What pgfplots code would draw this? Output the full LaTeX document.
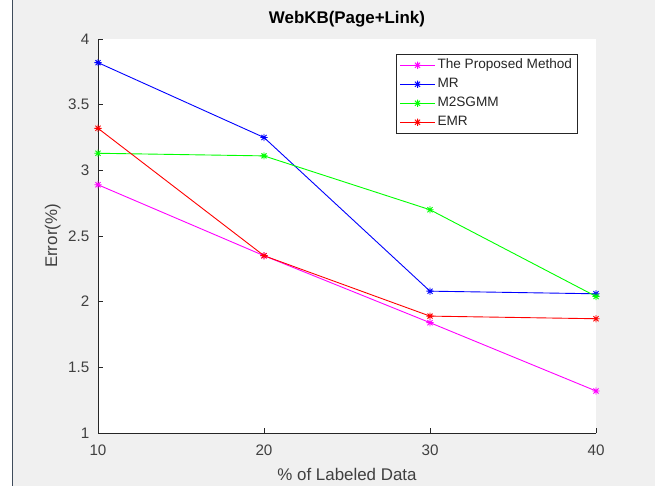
\documentclass[border=0pt]{standalone}
\usepackage{pgfplots}
\pgfplotsset{compat=1.18}
\usepackage{fontspec}
\setmainfont{Liberation Sans}
\definecolor{figgray}{RGB}{240,240,240}
\definecolor{axcol}{RGB}{38,38,38}
\definecolor{ticktext}{RGB}{64,64,64}
\definecolor{edgecol}{RGB}{63,76,92}
\pgfdeclareplotmark{mstar}{%
  \pgfpathmoveto{\pgfpoint{-\pgfplotmarksize}{0pt}}\pgfpathlineto{\pgfpoint{\pgfplotmarksize}{0pt}}%
  \pgfpathmoveto{\pgfpoint{0pt}{-\pgfplotmarksize}}\pgfpathlineto{\pgfpoint{0pt}{\pgfplotmarksize}}%
  \pgfpathmoveto{\pgfpoint{-0.707\pgfplotmarksize}{-0.707\pgfplotmarksize}}\pgfpathlineto{\pgfpoint{0.707\pgfplotmarksize}{0.707\pgfplotmarksize}}%
  \pgfpathmoveto{\pgfpoint{-0.707\pgfplotmarksize}{0.707\pgfplotmarksize}}\pgfpathlineto{\pgfpoint{0.707\pgfplotmarksize}{-0.707\pgfplotmarksize}}%
  \pgfusepathqstroke}
\begin{document}
\begin{tikzpicture}
\useasboundingbox (0,0) rectangle (662bp,486bp);
\fill[white] (0,0) rectangle (662bp,486bp);
\fill[figgray] (13bp,0) rectangle (655bp,486bp);
\fill[edgecol] (12bp,0) rectangle (13.2bp,486bp);
\begin{axis}[
  at={(98bp,53bp)}, anchor=south west,
  scale only axis, width=498bp, height=394bp,
  axis background/.style={fill=white},
  axis lines*=left,
  axis line style={axcol, line width=0.6bp},
  xmin=10, xmax=40, ymin=1, ymax=4,
  xtick={10,20,30,40},
  ytick={1,1.5,2,2.5,3,3.5,4},
  tick align=inside,
  major tick length=5bp,
  tick style={axcol, line width=0.6bp},
  /pgf/number format/assume math mode=true,
  /pgf/number format/fixed,
  ticklabel style={font=\fontsize{15.2bp}{17bp}\selectfont, text=ticktext, inner sep=0pt},
  xticklabel style={anchor=north, yshift=-12bp},
  yticklabel style={anchor=east, xshift=-8.5bp},
  title={\textbf{WebKB(Page+Link)}},
  title style={at={(axis description cs:0.5,1.0254)}, anchor=base, font=\fontsize{16.9bp}{19bp}\selectfont, text=black, inner sep=0pt},
  xlabel={\% of Labeled Data},
  xlabel style={at={(axis description cs:0.5,-0.1193)}, anchor=base, font=\fontsize{16.9bp}{19bp}\selectfont, text=ticktext, inner sep=0pt},
  ylabel={Error(\%)},
  ylabel style={at={(axis description cs:-0.0822,0.5)}, anchor=base, font=\fontsize{16.9bp}{19bp}\selectfont, text=ticktext, inner sep=0pt},
  every axis plot/.append style={line width=0.9bp, mark=mstar, mark size=3.6bp, mark options={solid}},
  legend style={at={(0.599,0.962)}, anchor=north west, draw=axcol, line width=0.6bp,
    font=\fontsize{13.6bp}{15bp}\selectfont, text=axcol,
    inner xsep=3bp, inner ysep=1.5bp,
    nodes={text height=10bp, text depth=3bp, inner ysep=3bp, inner xsep=2bp}},
  legend cell align=left,
  legend image code/.code={\draw[#1, mark repeat=2, mark phase=2] plot coordinates {(0bp,0bp) (17.5bp,0bp) (35bp,0bp)};},
]
\addplot[color={rgb,1:red,1;green,0;blue,1}] coordinates {(10,2.89) (20,2.35) (30,1.84) (40,1.32)};
\addlegendentry{The Proposed Method}
\addplot[color={rgb,1:red,0;green,0;blue,1}] coordinates {(10,3.82) (20,3.25) (30,2.08) (40,2.06)};
\addlegendentry{MR}
\addplot[color={rgb,1:red,0;green,1;blue,0}] coordinates {(10,3.13) (20,3.11) (30,2.70) (40,2.04)};
\addlegendentry{M2SGMM}
\addplot[color={rgb,1:red,1;green,0;blue,0}] coordinates {(10,3.32) (20,2.35) (30,1.89) (40,1.87)};
\addlegendentry{EMR}
\end{axis}
\end{tikzpicture}
\end{document}
